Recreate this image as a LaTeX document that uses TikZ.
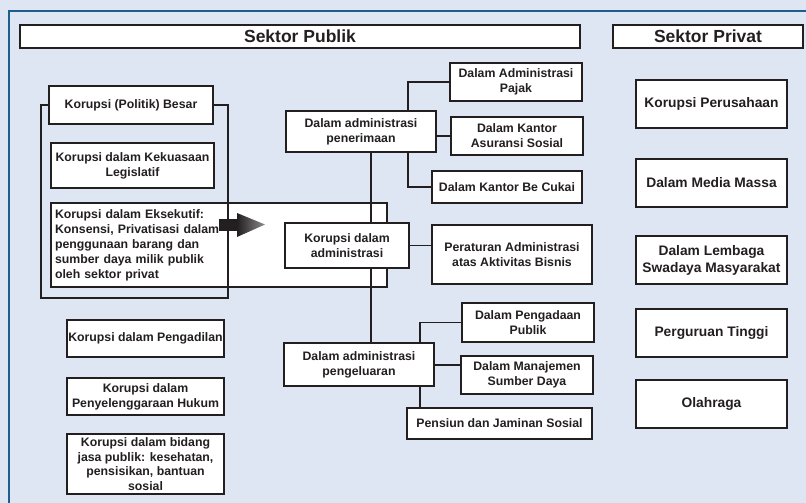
\documentclass[tikz,border=0pt]{standalone}
\usepackage{fontspec}
\setmainfont{Liberation Sans}
\definecolor{bgblue}{HTML}{DFE6F3}
\definecolor{frameblue}{HTML}{1B5E8F}
\definecolor{ink}{HTML}{231F20}

\begin{document}
\begin{tikzpicture}[x=1pt,y=-1pt,
  box/.style={draw=ink, fill=white, line width=1.6pt, inner sep=0pt,
    align=center, text=ink, font=\bfseries\fontsize{12.3}{15}\selectfont},
  headbox/.style={box, font=\bfseries\fontsize{17.5}{20}\selectfont},
  privbox/.style={box, minimum width=151pt, minimum height=48pt,
    font=\bfseries\fontsize{13.8}{17}\selectfont},
  link/.style={draw=ink, line width=1.6pt},
]
% canvas
\fill[bgblue] (0,0) rectangle (806,503);
\useasboundingbox (0,0) rectangle (806,503);
\draw[frameblue, line width=2.2pt] (806,11) -- (9,11) -- (9,503);

% headers
\node[headbox, minimum width=560pt, minimum height=23pt] (hpub) at (300,36.5) {Sektor Publik};
\node[headbox, minimum width=190pt, minimum height=23pt] (hpriv) at (708,36.5) {Sektor Privat};

% wide executive box (lies beneath the bracket and trunk lines)
\node[box, minimum width=336pt, minimum height=84pt, text width=328pt, align=left]
  (eksek) at (219,245)
  {Korupsi dalam Eksekutif:\\Konsensi, Privatisasi dalam\\penggunaan barang dan\\sumber daya milik publik\\oleh sektor privat};

% left column
\node[box, minimum width=164pt, minimum height=38pt] (besar) at (131,105) {Korupsi (Politik) Besar};
\node[box, minimum width=163pt, minimum height=45pt] (legis) at (132.5,165.5) {Korupsi dalam Kekuasaan\\Legislatif};
\node[box, minimum width=157pt, minimum height=37pt] (adil) at (145.5,338.5) {Korupsi dalam Pengadilan};
\node[box, minimum width=157pt, minimum height=37pt] (hukum) at (145.5,396.5) {Korupsi dalam\\Penyelenggaraan Hukum};
\node[box, minimum width=157pt, minimum height=60pt, font=\bfseries\fontsize{12.3}{14.5}\selectfont]
  (jasa) at (145.5,464) {Korupsi dalam bidang\\jasa publik: kesehatan,\\pensisikan, bantuan\\sosial};

% bracket around the political-corruption group
\draw[link] (besar.west) -- (41,105) -- (41,298) -- (228,298) -- (228,105) -- (besar.east);

% middle column
\node[box, minimum width=150pt, minimum height=41pt] (terima) at (361,131.5) {Dalam administrasi\\penerimaan};
\node[box, minimum width=150pt, minimum height=43pt] (keluar) at (359,364.5) {Dalam administrasi\\pengeluaran};

\coordinate (trunk) at (371,0);
\coordinate (ttap) at (408,0);
\coordinate (ktap) at (420,0);

\draw[link] (trunk |- terima.south) -- (trunk |- keluar.north);

\node[box, minimum width=124pt, minimum height=45pt] (kadmin) at (347,245.5) {Korupsi dalam\\administrasi};

% revenue branch
\node[box, minimum width=132pt, minimum height=38pt] (pajak) at (516,82) {Dalam Administrasi\\Pajak};
\node[box, minimum width=132pt, minimum height=38pt] (asur) at (517,136) {Dalam Kantor\\Asuransi Sosial};
\node[box, minimum width=150pt, minimum height=32pt] (cukai) at (507,187) {Dalam Kantor Be Cukai};
\draw[link] (pajak.west) -| (ttap |- terima.north);
\draw[link] (asur.west -| terima.east) -- (asur.west);
\draw[link] (cukai.west) -| (ttap |- terima.south);

% regulation
\node[box, minimum width=160pt, minimum height=59pt] (atur) at (512,254.5) {Peraturan Administrasi\\atas Aktivitas Bisnis};
\draw[link] (kadmin.east) -- (kadmin.east -| atur.west);

% expenditure branch
\node[box, minimum width=132pt, minimum height=39pt] (adaan) at (528,322.5) {Dalam Pengadaan\\Publik};
\node[box, minimum width=132pt, minimum height=38pt] (manaj) at (527,375) {Dalam Manajemen\\Sumber Daya};
\node[box, minimum width=185pt, minimum height=31pt] (pensiun) at (499.5,423.5) {Pensiun dan Jaminan Sosial};
\draw[link] (adaan.west) -| (ktap |- keluar.north);
\draw[link] (keluar.east |- 0,365) -- (manaj.west |- 0,365);
\draw[link] (ktap |- keluar.south) -- (ktap |- pensiun.north);

% private sector
\node[privbox] (usaha) at (711.5,104) {Korupsi Perusahaan};
\node[privbox] (media) at (711.5,183) {Dalam Media Massa};
\node[privbox] (lsm) at (711.5,260) {Dalam Lembaga\\Swadaya Masyarakat};
\node[privbox] (ptinggi) at (711.5,333) {Perguruan Tinggi};
\node[privbox] (olah) at (711.5,404) {Olahraga};

% block arrow from the executive group towards administration
\fill[ink] (219,219) -- (238,219) -- (238,231) -- (219,231) -- cycle;
\shade[left color=ink, right color=black!45] (237,213) -- (265,224.5) -- (237,237) -- cycle;
\end{tikzpicture}
\end{document}
